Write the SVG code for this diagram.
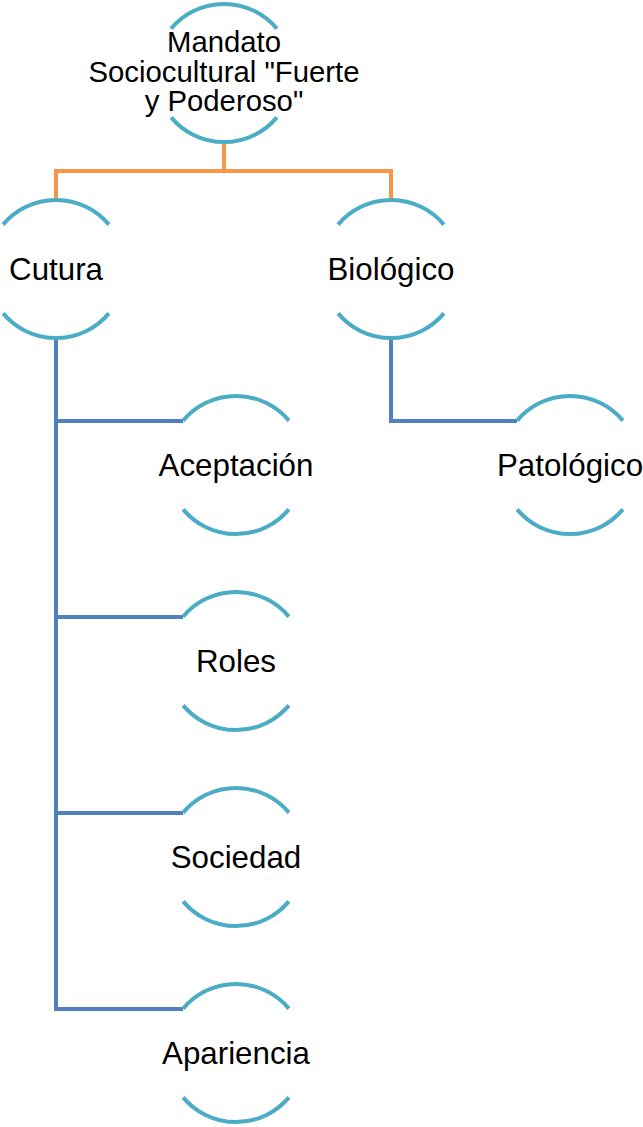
<svg xmlns="http://www.w3.org/2000/svg" width="643" height="1127" viewBox="0 0 643 1127">
<style>
.arc{fill:none;stroke:#4bacc6;stroke-width:4}
.lbl{font-family:"Liberation Sans",Arial,sans-serif;font-size:31.3px;fill:#000;text-anchor:middle}
.top{font-size:29.3px}
.or{fill:none;stroke:#f79646;stroke-width:4}
.bl{fill:none;stroke:#4f81bd;stroke-width:4}
</style>
<defs>
<path id="arcs" class="arc" d="M-52.9 -44.4 A69 69 0 0 1 52.9 -44.4 M-52.9 44.4 A69 69 0 0 0 52.9 44.4"/>
</defs>
<g id="connectors">
<path class="or" d="M224 142 V171 M56 200 V171 H391 V200"/>
<path class="bl" d="M56 338 V1009 H183 M56 421 H183 M56 617 H183 M56 813 H183"/>
<path class="bl" d="M391 338 V421 H517"/>
</g>
<g id="n-mandato">
<use href="#arcs" x="224" y="73"/>
<text class="lbl top" x="224" y="52">Mandato</text>
<text class="lbl top" x="224" y="82">Sociocultural "Fuerte</text>
<text class="lbl top" x="224" y="111">y Poderoso"</text>
</g>
<g id="n-cutura">
<use href="#arcs" x="56" y="269"/>
<text class="lbl" x="56" y="280">Cutura</text>
</g>
<g id="n-biologico">
<use href="#arcs" x="391" y="269"/>
<text class="lbl" x="391" y="280">Biológico</text>
</g>
<g id="n-aceptacion">
<use href="#arcs" x="236" y="465"/>
<text class="lbl" x="236" y="476">Aceptación</text>
</g>
<g id="n-patologico">
<use href="#arcs" x="570" y="465"/>
<text class="lbl" x="570" y="476">Patológico</text>
</g>
<g id="n-roles">
<use href="#arcs" x="236" y="661"/>
<text class="lbl" x="236" y="672">Roles</text>
</g>
<g id="n-sociedad">
<use href="#arcs" x="236" y="857"/>
<text class="lbl" x="236" y="868">Sociedad</text>
</g>
<g id="n-apariencia">
<use href="#arcs" x="236" y="1053"/>
<text class="lbl" x="236" y="1064">Apariencia</text>
</g>
</svg>
